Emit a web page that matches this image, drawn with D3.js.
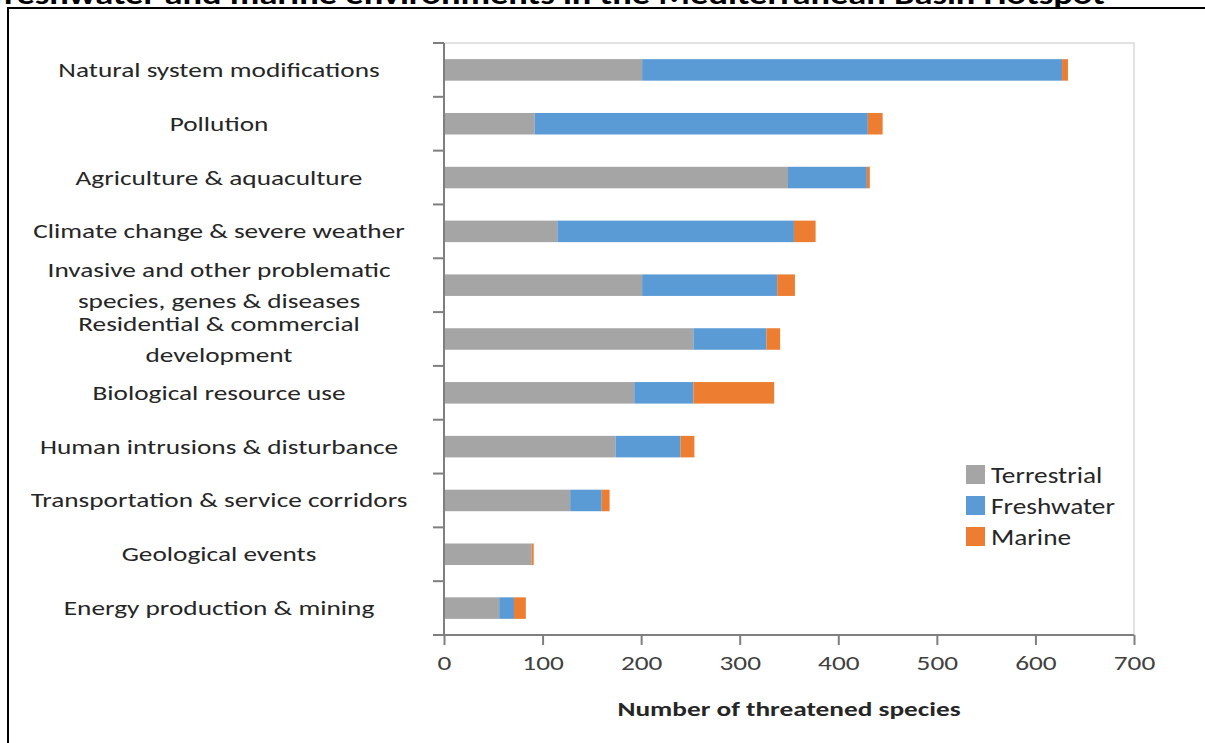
<!DOCTYPE html>
<html>
<head>
<meta charset="utf-8">
<script src="https://cdn.jsdelivr.net/npm/d3@7"></script>
<style>
  html, body { margin: 0; padding: 0; background: #fff; }
  svg { display: block; }
  text { font-family: Carlito, Lato, "Open Sans", sans-serif; }
</style>
</head>
<body>
<svg id="chart" width="1205" height="743"></svg>
<script>
// Threat categories (top to bottom); multi-line names are split on "|"
const categories = [
  "Natural system modifications",
  "Pollution",
  "Agriculture & aquaculture",
  "Climate change & severe weather",
  "Invasive and other problematic|species, genes & diseases",
  "Residential & commercial|development",
  "Biological resource use",
  "Human intrusions & disturbance",
  "Transportation & service corridors",
  "Geological events",
  "Energy production & mining"
];

// Number of threatened species per environment
const terrestrial = [201, 92, 349, 115, 201, 253, 193, 174, 128, 89, 56];
const freshwater  = [426, 338, 80, 240, 137, 74, 60, 66, 32, 0, 15];
const marine      = [6, 15, 3, 22, 18, 14, 82, 14, 8, 2, 12];

const seriesNames = ["Terrestrial", "Freshwater", "Marine"];
const seriesColors = ["#A5A5A5", "#5B9BD5", "#ED7D31"];
const xTicks = [0, 100, 200, 300, 400, 500, 600, 700];
const xTitle = "Number of threatened species";
const titleText = "freshwater and marine environments in the Mediterranean Basin Hotspot";

// The figure's type is set slightly wide
const stretch = 1.3;

const svg = d3.select("#chart");

// Caption line above the framed figure
svg.append("text")
  .attr("transform", `translate(1105,4) scale(${stretch},1)`)
  .attr("text-anchor", "end")
  .attr("font-size", 28).attr("font-weight", "bold").attr("fill", "#000")
  .text(titleText);

// Figure frame
svg.append("rect")
  .attr("x", 8).attr("y", 8).attr("width", 1210).attr("height", 760)
  .attr("fill", "#fff").attr("stroke", "#000").attr("stroke-width", 2);

const plot = { left: 444, right: 1134, top: 43, bottom: 635 };

const x = d3.scaleLinear().domain([0, 700]).range([plot.left, plot.right]);
const y = d3.scaleBand().domain(categories).range([plot.top, plot.bottom])
  .paddingInner(0.6).paddingOuter(0.3);

// Plot area outline
svg.append("rect")
  .attr("x", plot.left).attr("y", plot.top)
  .attr("width", plot.right - plot.left).attr("height", plot.bottom - plot.top)
  .attr("fill", "none").attr("stroke", "#D9D9D9").attr("stroke-width", 1.5);

// Stacked bars
const rows = categories.map((c, i) => ({
  cat: c, Terrestrial: terrestrial[i], Freshwater: freshwater[i], Marine: marine[i]
}));
const stacked = d3.stack().keys(seriesNames)(rows);

svg.append("g").selectAll("g").data(stacked).join("g")
  .attr("fill", (d, i) => seriesColors[i])
  .selectAll("rect").data(d => d).join("rect")
  .attr("x", d => x(d[0]))
  .attr("width", d => x(d[1]) - x(d[0]))
  .attr("y", d => y(d.data.cat))
  .attr("height", y.bandwidth());

// X axis
const xAxis = svg.append("g")
  .attr("transform", `translate(0,${plot.bottom})`)
  .call(d3.axisBottom(x).tickValues(xTicks).tickSize(10).tickPadding(10).tickSizeOuter(0));
xAxis.select(".domain").attr("stroke", "#7F7F7F").attr("stroke-width", 2);
xAxis.selectAll(".tick line").attr("stroke", "#7F7F7F").attr("stroke-width", 2);
xAxis.selectAll(".tick text")
  .attr("font-size", 21).attr("fill", "#404040")
  .attr("transform", `scale(${stretch},1)`)
  .style("font-family", "Carlito, Lato, sans-serif");
xAxis.select(".domain").attr("d", `M${plot.left - 11},0H${plot.right}`);

// Y axis line with ticks at category boundaries
const yAxis = svg.append("g");
yAxis.append("line")
  .attr("x1", plot.left).attr("x2", plot.left)
  .attr("y1", plot.top).attr("y2", plot.bottom)
  .attr("stroke", "#7F7F7F").attr("stroke-width", 2);
const boundaries = d3.range(categories.length + 1).map(i => plot.top + i * y.step());
yAxis.selectAll(".yt").data(boundaries).join("line")
  .attr("class", "yt")
  .attr("x1", plot.left - 11).attr("x2", plot.left)
  .attr("y1", d => d).attr("y2", d => d)
  .attr("stroke", "#7F7F7F").attr("stroke-width", 2);

// Category labels, centred in the left margin
const labelX = 219;
const labels = svg.append("g").attr("font-size", 21).attr("fill", "#262626")
  .attr("text-anchor", "middle");
categories.forEach(c => {
  const lines = c.split("|");
  const cy = y(c) + y.bandwidth() / 2;
  const lh = 31;
  lines.forEach((ln, j) => {
    const ty = cy + (j - (lines.length - 1) / 2) * lh + 7;
    labels.append("text")
      .attr("transform", `translate(${labelX},${ty}) scale(${stretch},1)`)
      .text(ln);
  });
});

// X axis title
svg.append("text")
  .attr("transform", `translate(${(plot.left + plot.right) / 2},716) scale(${stretch},1)`)
  .attr("text-anchor", "middle").attr("font-size", 21).attr("font-weight", "bold")
  .attr("fill", "#262626")
  .text(xTitle);

// Legend
const legend = svg.append("g").attr("transform", "translate(966,465)");
seriesNames.forEach((s, i) => {
  const g = legend.append("g").attr("transform", `translate(0,${i * 31})`);
  g.append("rect").attr("width", 19).attr("height", 19).attr("fill", seriesColors[i]);
  g.append("text").attr("transform", `translate(25,18) scale(1.24,1)`)
    .attr("font-size", 22).attr("fill", "#262626").text(s);
});
</script>
</body>
</html>
